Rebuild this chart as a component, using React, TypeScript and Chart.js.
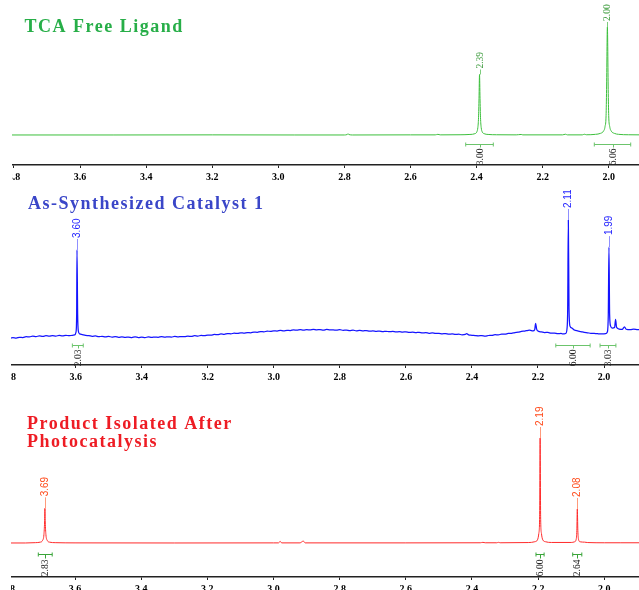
import React, { useEffect, useRef } from 'react';
import { Chart, registerables } from 'chart.js';

Chart.register(...registerables);

// ---------- shared axis ticks (ppm) ----------
const tickValues = [2.0, 2.2, 2.4, 2.6, 2.8, 3.0, 3.2, 3.4, 3.6, 3.8];

// ---------- Panel 1: TCA Free Ligand ----------
const ligandTitle = ['TCA Free Ligand'];
const ligandPpm = [3.806, 3.5, 3.2, 2.95, 2.8, 2.792, 2.789, 2.786, 2.775, 2.6, 2.525, 2.517, 2.51, 2.45, 2.42, 2.405, 2.399, 2.396, 2.394, 2.3925, 2.391, 2.3895, 2.388, 2.386, 2.383, 2.377, 2.365, 2.34, 2.28, 2.265, 2.26, 2.14, 2.131, 2.125, 2.08, 2.074, 2.068, 2.04, 2.025, 2.016, 2.011, 2.008, 2.0065, 2.004, 2.0015, 2.0, 1.997, 1.992, 1.983, 1.97, 1.94, 1.9];
const ligandIntensity = [0, 0, 0.1, 0, 0, 0.4, 1.0, 0.4, 0, 0.1, 0.1, 0.6, 0.1, 0.2, 0.5, 1.2, 3, 7, 16, 34, 56, 34, 16, 7, 3, 1.2, 0.5, 0.2, 0.1, 0.5, 0.1, 0.1, 0.7, 0.1, 0.1, 0.7, 0.2, 0.6, 1.5, 3.5, 8, 18, 42, 100, 42, 18, 8, 3.5, 1.5, 0.6, 0.2, 0.1];
const ligandPeakPpm = [2.391, 2.004];
const ligandPeakLabels = ['2.39', '2.00'];
const ligandIntFrom = [2.4328, 2.0436];
const ligandIntTo = [2.3493, 1.9334];
const ligandIntLabels = ['3.00', '6.06'];

// ---------- Panel 2: As-Synthesized Catalyst 1 ----------
const catalystTitle = ['As-Synthesized Catalyst 1'];
const catalystPpm = [
  3.802, 3.79, 3.78, 3.77, 3.76, 3.75, 3.74, 3.73, 3.72, 3.71, 3.7, 3.69, 3.68, 3.67, 3.66, 3.65, 3.64, 3.63, 3.62, 3.61,
  3.603, 3.599, 3.597, 3.596, 3.594, 3.592, 3.588,
  3.58, 3.57, 3.56, 3.55, 3.54, 3.53, 3.52, 3.51, 3.5, 3.49, 3.48, 3.47, 3.46, 3.45, 3.44, 3.43, 3.42, 3.41, 3.4,
  3.39, 3.38, 3.37, 3.36, 3.35, 3.34, 3.33, 3.32, 3.31, 3.3, 3.29, 3.28, 3.27, 3.26, 3.25, 3.24, 3.23, 3.22, 3.21, 3.2,
  3.19, 3.18, 3.17, 3.16, 3.15, 3.14, 3.13, 3.12, 3.11, 3.1, 3.09, 3.08, 3.07, 3.06, 3.05, 3.04, 3.03, 3.02, 3.01, 3.0,
  2.99, 2.98, 2.97, 2.96, 2.95, 2.94, 2.93, 2.92, 2.91, 2.9, 2.89, 2.88, 2.87, 2.86, 2.85, 2.84, 2.83, 2.82, 2.81, 2.8,
  2.79, 2.78, 2.77, 2.76, 2.75, 2.74, 2.73, 2.72, 2.71, 2.7, 2.69, 2.68, 2.67, 2.66, 2.65, 2.64, 2.63, 2.62, 2.61, 2.6,
  2.59, 2.58, 2.57, 2.56, 2.55, 2.54, 2.53, 2.52, 2.51, 2.5, 2.49, 2.48, 2.47, 2.46, 2.45, 2.44, 2.43, 2.42, 2.416, 2.41,
  2.4, 2.39, 2.38, 2.37, 2.36, 2.35, 2.34, 2.33, 2.32, 2.31, 2.3, 2.29, 2.28, 2.27, 2.26, 2.25, 2.24, 2.23, 2.225, 2.215,
  2.21, 2.207, 2.204, 2.198, 2.19, 2.18, 2.17, 2.16, 2.15, 2.14, 2.13, 2.125, 2.116, 2.112, 2.11, 2.108, 2.106, 2.103, 2.098, 2.09,
  2.08, 2.07, 2.06, 2.05, 2.04, 2.03, 2.02, 2.01, 1.995, 1.99, 1.987, 1.985, 1.983, 1.98, 1.975, 1.968, 1.965, 1.962, 1.955, 1.945,
  1.938, 1.933, 1.92, 1.91, 1.9, 1.889,
];
const catalystIntensity = [
  -0.4, 0.3, -0.1, 0.6, 0.4, 1.1, 0.9, 1.6, 1.2, 1.7, 1.3, 1.9, 1.5, 2.0, 1.6, 2.2, 1.8, 2.3, 1.9, 2.3,
  2.6, 5, 20, 74.6, 20, 6, 3.5,
  2.9, 2.2, 2.0, 1.4, 1.7, 1.1, 1.4, 0.9, 1.3, 0.8, 1.1, 0.6, 1.0, 0.5, 0.8, 0.4, 0.9, 0.4, 0.7,
  0.3, 0.9, 0.5, 0.8, 0.6, 1.1, 0.7, 1.0, 0.8, 1.3, 0.9, 1.2, 1.1, 1.6, 1.3, 1.9, 1.6, 2.2, 1.9, 2.5,
  2.4, 3.0, 2.8, 3.4, 3.1, 3.7, 3.5, 4.1, 3.8, 4.4, 4.1, 4.6, 4.4, 5.0, 4.8, 5.4, 5.2, 5.8, 5.6, 6.1,
  5.9, 6.5, 6.1, 6.4, 6.3, 6.9, 6.6, 7.1, 6.7, 7.0, 6.8, 7.3, 6.9, 7.1, 6.7, 7.2, 6.8, 6.9, 6.6, 7.0,
  6.5, 6.7, 6.3, 6.6, 6.1, 6.4, 6.0, 6.3, 5.8, 6.0, 5.6, 5.9, 5.4, 5.7, 5.3, 5.5, 5.1, 5.4, 5.0, 5.2,
  4.7, 4.9, 4.5, 4.8, 4.3, 4.5, 4.0, 4.3, 3.8, 4.0, 3.5, 3.7, 3.2, 3.5, 3.0, 3.2, 2.7, 3.0, 3.6, 2.6,
  2.3, 2.0, 1.8, 2.0, 1.6, 2.1, 2.2, 2.8, 2.6, 3.3, 3.2, 3.8, 3.9, 4.6, 4.9, 5.6, 5.9, 6.5, 6.6, 6.0,
  7.0, 12.4, 7.5, 5.6, 5.2, 4.6, 4.7, 4.1, 4.2, 3.7, 3.8, 3.4, 3.8, 8, 25, 100, 25, 10, 8.5, 6.8,
  6.0, 5.4, 4.7, 4.4, 4.0, 3.8, 3.6, 3.4, 3.6, 5, 20, 77, 20, 10, 8.3, 8.8, 15.8, 9, 7.6, 7.2,
  9.5, 7.4, 7.0, 7.4, 7.1, 7.0,
];
const catalystPeakPpm = [3.596, 2.108, 1.985];
const catalystPeakLabels = ['3.60', '2.11', '1.99'];
const catalystIntFrom = [3.61, 2.146, 2.012];
const catalystIntTo = [3.577, 2.042, 1.964];
const catalystIntLabels = ['2.03', '6.00', '3.03'];

// ---------- Panel 3: Product Isolated After Photocatalysis ----------
const productTitle = ['Product Isolated After', 'Photocatalysis'];
const productPpm = [3.803, 3.75, 3.72, 3.705, 3.698, 3.694, 3.692, 3.691, 3.69, 3.688, 3.684, 3.677, 3.66, 3.6, 3.3, 3.0, 2.985, 2.98, 2.975, 2.92, 2.91, 2.904, 2.6, 2.375, 2.367, 2.36, 2.325, 2.32, 2.315, 2.23, 2.21, 2.202, 2.198, 2.1955, 2.194, 2.1925, 2.19, 2.186, 2.178, 2.16, 2.1, 2.09, 2.085, 2.083, 2.0816, 2.08, 2.078, 2.073, 2.06, 2.05, 2.0, 1.95, 1.889];
const productIntensity = [0, 0, 0.3, 0.8, 2.5, 8, 20, 33, 20, 8, 2.5, 0.8, 0.3, 0.1, 0, 0.1, 0.1, 1.5, 0.1, 0.1, 1.8, 0.1, 0.1, 0.2, 0.6, 0.2, 0.2, 0.6, 0.2, 0.4, 1.2, 3, 9, 25, 100, 25, 9, 3, 1.2, 0.5, 0.5, 1.1, 3.5, 12, 32.4, 12, 3.5, 1.1, 0.8, 0.4, 0.2, 0.2, 0.2];
const productPeakPpm = [3.691, 2.194, 2.0816];
const productPeakLabels = ['3.69', '2.19', '2.08'];
const productIntFrom = [3.711, 2.2065, 2.0955];
const productIntTo = [3.669, 2.182, 2.068];
const productIntLabels = ['2.83', '6.00', '2.64'];

interface PanelCfg {
  top: number; height: number; clip: number; padLeft: number;
  xMin: number; xMax: number; yMin: number; yMax: number;
  ppm: number[]; intensity: number[]; lineColor: string; lineWidth: number;
  title: string[]; titleColor: string; titleX: number; titleY: number; titleLineHeight: number;
  peakPpm: number[]; peakLabels: string[]; peakColor: string; stemColor: string; peakFont: string; stem: number;
  intFrom: number[]; intTo: number[]; intLabels: string[]; intOffset: number; intGap: number; intColor: string;
}

const panels: PanelCfg[] = [
  {
    top: 0, height: 187, clip: 12, padLeft: 12,
    xMin: 1.9053, xMax: 3.806, yMin: -27.8, yMax: 125,
    ppm: ligandPpm, intensity: ligandIntensity, lineColor: '#3cbf3c', lineWidth: 1,
    title: ligandTitle, titleColor: '#27ae48', titleX: 24.5, titleY: 31.5, titleLineHeight: 18,
    peakPpm: ligandPeakPpm, peakLabels: ligandPeakLabels, peakColor: '#3a9a3a', stemColor: '#7ccc7c',
    peakFont: '9.5px "Liberation Serif", serif', stem: 5,
    intFrom: ligandIntFrom, intTo: ligandIntTo, intLabels: ligandIntLabels, intOffset: 9.3, intGap: 3, intColor: '#6cc46c',
  },
  {
    top: 190, height: 197, clip: 11, padLeft: 9,
    xMin: 1.891, xMax: 3.8019, yMin: -22.9, yMax: 125.4,
    ppm: catalystPpm, intensity: catalystIntensity, lineColor: '#1414ff', lineWidth: 1.25,
    title: catalystTitle, titleColor: '#3a46c8', titleX: 28, titleY: 19.3, titleLineHeight: 18,
    peakPpm: catalystPeakPpm, peakLabels: catalystPeakLabels, peakColor: '#1f1fff', stemColor: '#8f8fff',
    peakFont: '10px "Liberation Sans Narrow", "Arial Narrow", "Liberation Sans", sans-serif', stem: 11,
    intFrom: catalystIntFrom, intTo: catalystIntTo, intLabels: catalystIntLabels, intOffset: 7, intGap: 3, intColor: '#6cc46c',
  },
  {
    top: 390, height: 209, clip: 11, padLeft: 8,
    xMin: 1.8921, xMax: 3.8026, yMin: -32.4, yMax: 145.7,
    ppm: productPpm, intensity: productIntensity, lineColor: '#ff2a2a', lineWidth: 1,
    title: productTitle, titleColor: '#ee1c24', titleX: 27, titleY: 39, titleLineHeight: 18,
    peakPpm: productPeakPpm, peakLabels: productPeakLabels, peakColor: '#ff4a1a', stemColor: '#ff9a7a',
    peakFont: '10px "Liberation Sans Narrow", "Arial Narrow", "Liberation Sans", sans-serif', stem: 11,
    intFrom: productIntFrom, intTo: productIntTo, intLabels: productIntLabels, intOffset: 11.5, intGap: 4, intColor: '#3aa53a',
  },
];

function makeAnnotations(cfg: PanelCfg) {
  return {
    id: 'nmrAnnotations',
    afterDatasetsDraw(chart: any) {
      const ctx = chart.ctx as CanvasRenderingContext2D;
      const xs = chart.scales.x;
      const ys = chart.scales.y;
      ctx.save();
      // title
      ctx.font = 'bold 18px "Liberation Serif", "Times New Roman", serif';
      (ctx as any).letterSpacing = '1.5px';
      ctx.fillStyle = cfg.titleColor;
      ctx.textAlign = 'left';
      ctx.textBaseline = 'alphabetic';
      cfg.title.forEach((t, i) => ctx.fillText(t, cfg.titleX, cfg.titleY + i * cfg.titleLineHeight));
      (ctx as any).letterSpacing = '0px';

      // peak labels
      cfg.peakPpm.forEach((p, i) => {
        let top = 0;
        cfg.ppm.forEach((q, j) => {
          if (Math.abs(q - p) < 0.004) top = Math.max(top, cfg.intensity[j]);
        });
        const px = Math.round(xs.getPixelForValue(p)) + 0.5;
        const py = ys.getPixelForValue(top);
        ctx.strokeStyle = cfg.stemColor;
        ctx.lineWidth = 1;
        ctx.beginPath();
        ctx.moveTo(px, py);
        ctx.lineTo(px, py - cfg.stem);
        ctx.stroke();
        ctx.save();
        ctx.translate(px, py - cfg.stem - 1);
        ctx.rotate(-Math.PI / 2);
        ctx.font = cfg.peakFont;
        ctx.fillStyle = cfg.peakColor;
        ctx.textAlign = 'left';
        ctx.textBaseline = 'middle';
        ctx.fillText(cfg.peakLabels[i], 0, 0);
        ctx.restore();
      });

      // integrals
      const by = Math.round(ys.getPixelForValue(0) + cfg.intOffset) + 0.5;
      cfg.intFrom.forEach((f, i) => {
        const x1 = xs.getPixelForValue(f);
        const x2 = xs.getPixelForValue(cfg.intTo[i]);
        const mid = Math.round((x1 + x2) / 2) + 0.5;
        ctx.strokeStyle = cfg.intColor;
        ctx.lineWidth = 1;
        ctx.beginPath();
        ctx.moveTo(x1, by); ctx.lineTo(x2, by);
        ctx.moveTo(x1, by - 2); ctx.lineTo(x1, by + 2);
        ctx.moveTo(x2, by - 2); ctx.lineTo(x2, by + 2);
        ctx.moveTo(mid, by); ctx.lineTo(mid, by + cfg.intGap);
        ctx.stroke();
        ctx.save();
        ctx.translate(mid, by + cfg.intGap + 1);
        ctx.rotate(-Math.PI / 2);
        ctx.font = '9.5px "Liberation Serif", serif';
        ctx.fillStyle = '#222';
        ctx.textAlign = 'right';
        ctx.textBaseline = 'middle';
        ctx.fillText(cfg.intLabels[i], 0, 0);
        ctx.restore();
      });
      ctx.restore();
    },
  };
}

function SpectrumPanel({ cfg }: { cfg: PanelCfg }) {
  const ref = useRef<HTMLCanvasElement | null>(null);
  useEffect(() => {
    if (!ref.current) return;
    const chart = new Chart(ref.current, {
      type: 'line',
      data: {
        datasets: [
          {
            data: cfg.ppm.map((p, i) => ({ x: p, y: cfg.intensity[i] })),
            borderColor: cfg.lineColor,
            borderWidth: cfg.lineWidth,
            pointRadius: 0,
            fill: false,
            cubicInterpolationMode: 'monotone',
          },
        ],
      },
      options: {
        animation: false,
        responsive: false,
        events: [],
        layout: { padding: { left: cfg.padLeft, right: 0, top: 0, bottom: 0 } },
        plugins: { legend: { display: false }, tooltip: { enabled: false }, title: { display: false } },
        scales: {
          x: {
            type: 'linear',
            reverse: true,
            min: cfg.xMin,
            max: cfg.xMax,
            afterBuildTicks: (scale: any) => {
              scale.ticks = tickValues.map((v) => ({ value: v }));
            },
            afterFit: (scale: any) => {
              scale.height = 22;
            },
            ticks: {
              autoSkip: false,
              maxRotation: 0,
              padding: 3,
              color: '#000',
              font: { family: '"Liberation Serif", "Times New Roman", serif', weight: 'bold', size: 10 },
              callback: (v: any) => Number(v).toFixed(1),
            },
            grid: { drawOnChartArea: false, drawTicks: true, tickLength: 3, color: '#222', lineWidth: 1 },
            border: { display: true, color: '#222', width: 1.5 },
          },
          y: { display: false, min: cfg.yMin, max: cfg.yMax },
        },
      } as any,
      plugins: [makeAnnotations(cfg)],
    });
    return () => chart.destroy();
  }, [cfg]);

  const visibleH = Math.min(cfg.height, 590 - cfg.top);
  return (
    <div
      style={{
        position: 'absolute',
        left: cfg.clip,
        top: cfg.top,
        width: 639 - cfg.clip,
        height: visibleH,
        overflow: 'hidden',
      }}
    >
      <canvas
        ref={ref}
        width={640}
        height={cfg.height}
        style={{ position: 'absolute', left: -cfg.clip, top: 0, width: 640, height: cfg.height }}
      />
    </div>
  );
}

export default function App() {
  return (
    <div
      style={{
        position: 'fixed',
        left: 0,
        top: 0,
        width: 639,
        height: 590,
        overflow: 'hidden',
        background: '#fff',
      }}
    >
      {panels.map((p, i) => (
        <SpectrumPanel key={i} cfg={p} />
      ))}
    </div>
  );
}
